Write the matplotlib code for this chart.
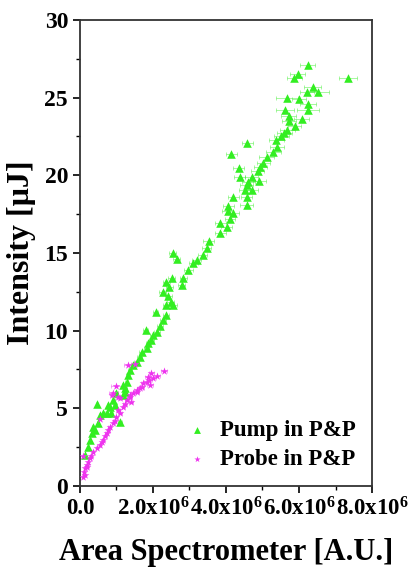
import numpy as np
import matplotlib
matplotlib.use('Agg')
import matplotlib.pyplot as plt
from matplotlib.ticker import FixedLocator, MultipleLocator

plt.rcParams['font.family'] = ['Liberation Serif', 'DejaVu Serif']
plt.rcParams['font.weight'] = 'bold'
plt.rcParams['mathtext.fontset'] = 'custom'
plt.rcParams['mathtext.rm'] = 'Liberation Serif:bold'
plt.rcParams['mathtext.it'] = 'Liberation Serif:bold'
plt.rcParams['mathtext.bf'] = 'Liberation Serif:bold'

# pump 数据 (x 单位 1e6)
pump_x = [6.24, 7.35, 5.96, 5.87, 6.37, 6.22, 6.51, 5.68, 6.00, 6.24, 6.25, 5.62,
          5.72, 6.07, 5.73, 5.88, 5.68, 5.60, 5.52, 4.58, 5.38, 5.40, 4.15, 5.30,
          5.11, 5.02, 4.94, 4.35, 4.87, 4.70, 4.38, 4.61, 4.91, 4.57, 4.52, 4.70,
          4.57, 4.20, 4.06, 4.57, 4.05, 4.20, 4.11, 3.84, 4.02, 3.84, 3.53, 3.47,
          3.36, 3.20, 3.10, 2.54, 2.65, 2.97, 2.83, 2.79, 2.51, 2.37, 2.45, 2.27,
          2.42, 2.49, 2.37, 2.55, 2.07, 2.35, 2.27, 2.19, 2.10, 1.80, 2.01, 1.96,
          1.87, 1.83, 1.69, 1.64, 1.55, 1.46, 1.37, 1.32, 1.28, 1.23, 1.19, 0.46,
          0.78, 0.55, 0.64, 1.10, 0.82, 0.91, 1.00, 0.36, 0.32, 0.41, 0.27, 0.23,
          0.14, 0.50, 0.73, 0.86, 0.96, 1.19, 1.23]
pump_y = [27.07, 26.25, 26.50, 26.25, 25.65, 25.37, 25.33, 25.00, 24.90, 24.58, 24.17, 24.20,
          23.80, 23.60, 23.50, 23.20, 22.90, 22.70, 22.50, 22.10, 22.30, 21.85, 21.40, 21.50,
          21.15, 20.80, 20.55, 20.45, 20.25, 19.90, 19.90, 19.55, 19.60, 19.40, 19.05, 19.05,
          18.60, 18.60, 18.00, 18.10, 17.70, 17.55, 17.20, 16.90, 16.70, 16.30, 15.75, 15.30,
          14.87, 14.55, 14.34, 15.02, 14.60, 13.90, 13.37, 12.94, 13.37, 13.16, 12.80, 12.50,
          12.20, 11.87, 11.65, 11.65, 11.22, 11.00, 10.70, 10.30, 9.94, 10.05, 9.72, 9.40,
          9.19, 8.87, 8.65, 8.33, 8.00, 7.79, 7.47, 7.15, 6.72, 6.29, 5.86, 5.28,
          5.20, 4.57, 4.68, 4.14, 5.10, 5.54, 5.97, 3.82, 3.39, 3.60, 2.96, 2.53,
          2.00, 4.04, 4.68, 4.68, 5.20, 6.50, 6.07]
pump_xerr = [0.20, 0.25, 0.20, 0.20, 0.22, 0.20, 0.30, 0.30, 0.20, 0.22, 0.30, 0.25,
             0.20, 0.20, 0.20, 0.18, 0.20, 0.20, 0.20, 0.15, 0.20, 0.20, 0.15, 0.20,
             0.20, 0.18, 0.18, 0.15, 0.18, 0.18, 0.15, 0.18, 0.18, 0.18, 0.15, 0.18,
             0.15, 0.15, 0.15, 0.18, 0.15, 0.15, 0.15, 0.15, 0.15, 0.15, 0.15, 0.12,
             0.12, 0.12, 0.12, 0.10, 0.10, 0.12, 0.10, 0.10, 0.10, 0.10, 0.10, 0.10,
             0.10, 0.10, 0.10, 0.10, 0.08, 0.08, 0.08, 0.08, 0.08, 0.07, 0.08, 0.08,
             0.07, 0.07, 0.07, 0.07, 0.06, 0.06, 0.06, 0.05, 0.05, 0.05, 0.05, 0.03,
             0.04, 0.03, 0.03, 0.05, 0.04, 0.04, 0.05, 0.02, 0.02, 0.02, 0.02, 0.02,
             0.01, 0.03, 0.04, 0.04, 0.05, 0.05, 0.05]

# probe 数据 (x 单位 1e6)
probe_x = [2.30, 1.51, 1.32, 1.96, 2.01, 1.87, 1.83, 1.92, 1.69, 1.55, 1.46, 1.00,
           0.91, 1.10, 1.37, 1.73, 1.90, 1.55, 1.37, 0.87, 1.05, 1.28, 1.19, 1.05,
           1.00, 0.91, 0.82, 0.73, 0.64, 0.55, 0.46, 0.36, 0.27, 0.23, 0.18, 0.14,
           0.11, 0.14, 0.09, 0.55, 0.78, 0.69, 0.60, 1.10, 1.23, 2.10, 1.65, 1.40,
           0.95, 0.30, 0.20, 0.08]
probe_y = [7.42, 7.86, 7.80, 7.26, 6.94, 7.04, 6.72, 6.50, 6.40, 6.07, 5.96, 6.44,
           5.97, 5.65, 5.75, 6.61, 6.80, 6.18, 5.86, 5.86, 5.75, 5.54, 5.10, 4.89,
           4.46, 4.04, 3.82, 3.39, 2.96, 2.64, 2.43, 2.21, 1.78, 1.56, 1.35, 1.14,
           0.92, 0.71, 1.93, 4.30, 3.60, 3.20, 2.80, 4.70, 5.30, 7.10, 6.30, 5.40,
           4.20, 1.90, 1.20, 0.60]
probe_xerr = [0.08, 0.10, 0.10, 0.08, 0.08, 0.08, 0.08, 0.08, 0.07, 0.07, 0.07, 0.15,
              0.12, 0.06, 0.06, 0.07, 0.07, 0.06, 0.06, 0.05, 0.05, 0.05, 0.05, 0.05,
              0.05, 0.04, 0.04, 0.04, 0.03, 0.03, 0.03, 0.02, 0.02, 0.02, 0.02, 0.01,
              0.01, 0.01, 0.08, 0.03, 0.04, 0.04, 0.03, 0.05, 0.05, 0.08, 0.07, 0.06,
              0.05, 0.02, 0.02, 0.01]

pump_x = np.array(pump_x) * 1e6
pump_xerr = np.array(pump_xerr) * 1e6
probe_x = np.array(probe_x) * 1e6
probe_xerr = np.array(probe_xerr) * 1e6

fig = plt.figure(figsize=(4.12, 5.69), dpi=100)
ax = fig.add_axes([0.194, 0.146, 0.709, 0.819])

green = '#33ee22'
magenta = '#ee33ee'

ax.errorbar(pump_x, pump_y, xerr=pump_xerr, fmt='none', ecolor=green, elinewidth=0.6,
            capsize=1.5, capthick=0.6, alpha=0.5)
ax.errorbar(probe_x, probe_y, xerr=probe_xerr, fmt='none', ecolor=magenta, elinewidth=0.6,
            capsize=1.5, capthick=0.6, alpha=0.5)
ax.scatter(pump_x, pump_y, marker='^', s=38, color=green, linewidths=0, label='Pump in P&P', zorder=3)
ax.scatter(probe_x, probe_y, marker='*', s=34, color=magenta, linewidths=0, label='Probe in P&P', zorder=3)

ax.set_xlim(0, 8e6)
ax.set_ylim(0, 30)
ax.xaxis.set_major_locator(FixedLocator([0, 2e6, 4e6, 6e6, 8e6]))
ax.xaxis.set_minor_locator(MultipleLocator(1e6))
ax.set_xticklabels(['0.0', r'2.0x10$^6$', r'4.0x10$^6$', r'6.0x10$^6$', r'8.0x10$^6$'])
ax.yaxis.set_major_locator(MultipleLocator(5))
ax.yaxis.set_minor_locator(MultipleLocator(2.5))

ax.tick_params(which='both', direction='out', top=False, right=False)
ax.tick_params(axis='y', labelsize=17)
ax.tick_params(axis='x', labelsize=16.5)
ax.tick_params(which='major', length=5, width=1.2)
ax.tick_params(which='minor', length=3, width=1.0)
for s in ax.spines.values():
    s.set_linewidth(1.3)
    s.set_color('#333333')

ax.set_xlabel('Area Spectrometer [A.U.]', fontsize=22, fontweight='bold', labelpad=12)
ax.set_ylabel('Intensity [μJ]', fontsize=23, fontweight='bold', labelpad=6)

ax.legend(loc='lower right', frameon=False, fontsize=16.5, handletextpad=0.4,
          markerscale=0.8, borderaxespad=0.3, labelspacing=0.35, handlelength=1.2)

fig.savefig('out.png', dpi=100)
